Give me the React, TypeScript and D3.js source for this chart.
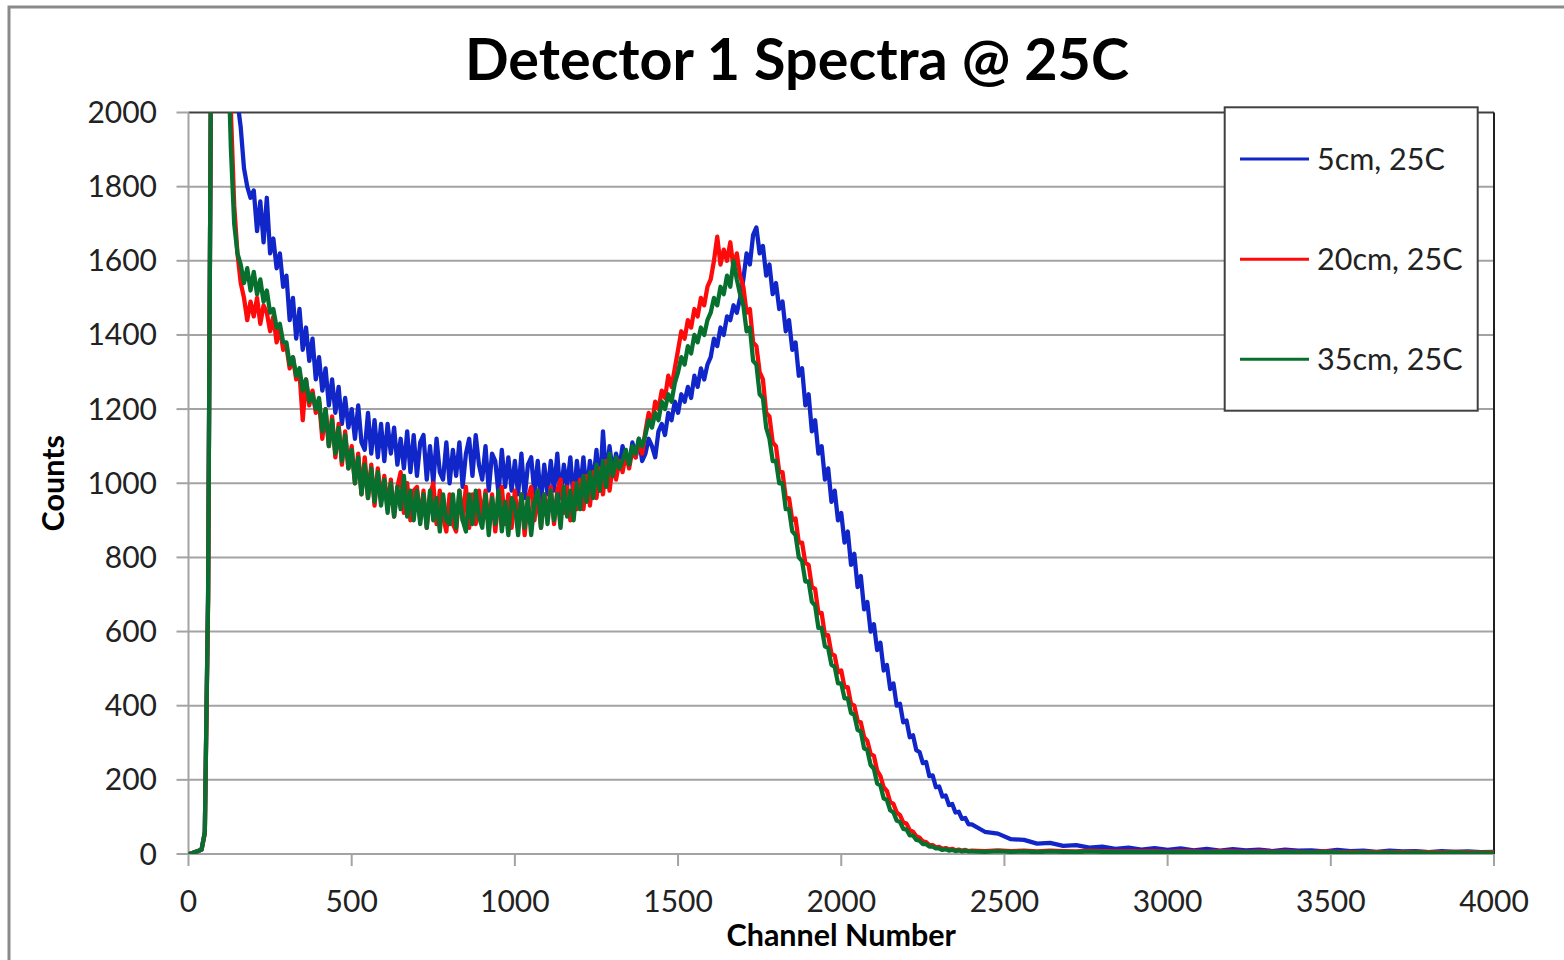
import React from "react";
import * as d3 from "d3";

// Channel grid (fine in the active region, coarser in the flat tail)
const CHANNELS: number[] = [...d3.range(0, 2400, 10), ...d3.range(2400, 4001, 40)];

const BLUE: number[] = [
  0, 2, 5, 8, 12, 60, 700, 2300, 3300, 3900,
  3500, 3000, 2620, 2310, 2120, 2030, 1960, 1850, 1800, 1770,
  1790, 1680, 1760, 1650, 1770, 1620, 1660, 1580, 1620, 1530,
  1560, 1440, 1500, 1390, 1470, 1360, 1420, 1330, 1390, 1280,
  1340, 1250, 1310, 1210, 1280, 1190, 1260, 1160, 1230, 1150,
  1200, 1120, 1210, 1110, 1090, 1190, 1080, 1170, 1070, 1160,
  1060, 1160, 1080, 1150, 1050, 1120, 1040, 1140, 1030, 1130,
  1020, 1110, 1130, 1010, 1100, 1000, 1120, 1030, 1010, 1110,
  1000, 1090, 1020, 1110, 990, 1080, 1120, 1020, 1130, 1050,
  1010, 1100, 980, 1080, 1060, 970, 1090, 990, 1070, 980,
  1060, 970, 1080, 960, 1050, 1070, 970, 1060, 950, 1050,
  970, 1060, 980, 1080, 960, 1050, 990, 1070, 950, 1060,
  980, 1070, 970, 1060, 1000, 1090, 980, 1140, 1010, 1100,
  1030, 1080, 1040, 1100, 1060, 1050, 1110, 1070, 1120, 1060,
  1080, 1120, 1100, 1070, 1140, 1160, 1130, 1190, 1170, 1220,
  1190, 1240, 1220, 1260, 1230, 1290, 1260, 1310, 1280, 1320,
  1340, 1390, 1370, 1420, 1400, 1450, 1440, 1480, 1460, 1500,
  1550, 1620, 1590, 1670, 1690, 1620, 1640, 1560, 1590, 1510,
  1540, 1470, 1490, 1410, 1440, 1360, 1380, 1290, 1310, 1210,
  1240, 1140, 1170, 1080, 1100, 1010, 1040, 950, 980, 900,
  920, 840, 870, 780, 810, 720, 750, 660, 680, 600,
  620, 550, 570, 495, 510, 445, 460, 400, 405, 355,
  360, 315, 320, 280, 275, 245, 248, 210, 212, 180,
  182, 155, 158, 132, 135, 112, 114, 95, 97, 80,
  80, 60, 55, 40, 38, 28, 30, 22, 24, 17,
  20, 14, 17, 12, 16, 11, 15, 10, 14, 9,
  13, 10, 12, 8, 12, 9, 10, 7, 11, 8,
  9, 6, 9, 7, 8, 5, 8, 6, 7, 5,
  6,
];

const RED: number[] = [
  0, 2, 5, 8, 12, 55, 680, 2300, 3300, 3900,
  3300, 2700, 2300, 2000, 1750, 1620, 1540, 1500, 1440, 1490,
  1450, 1500, 1430, 1480, 1460, 1410, 1450, 1380, 1420, 1360,
  1370, 1310, 1340, 1280, 1300, 1170, 1280, 1210, 1250, 1190,
  1220, 1120, 1200, 1100, 1180, 1070, 1160, 1050, 1140, 1040,
  1100, 1000, 1080, 970, 1070, 960, 1050, 940, 1040, 950,
  1020, 930, 1010, 910, 990, 1030, 920, 1000, 900, 980,
  990, 900, 980, 880, 970, 1000, 890, 980, 910, 870,
  970, 890, 870, 980, 900, 990, 880, 970, 890, 980,
  900, 980, 880, 970, 870, 960, 990, 890, 970, 880,
  980, 890, 970, 860, 960, 990, 900, 980, 880, 970,
  910, 990, 890, 980, 1010, 920, 990, 900, 1000, 930,
  1010, 930, 1020, 940, 1030, 960, 1040, 970, 1060, 980,
  1050, 1010, 1060, 1030, 1080, 1040, 1090, 1070, 1110, 1080,
  1140, 1190, 1160, 1220, 1200, 1250, 1230, 1290, 1260, 1310,
  1360, 1410, 1390, 1440, 1420, 1470, 1450, 1500, 1480, 1530,
  1550, 1600, 1665, 1590, 1630, 1600, 1650, 1580, 1620, 1560,
  1530, 1460, 1470, 1380, 1370, 1300, 1280, 1190, 1180, 1110,
  1100, 1030, 1030, 960, 960, 900, 905, 840, 840, 785,
  780, 720, 715, 650, 650, 590, 590, 540, 535, 490,
  495, 450, 450, 405, 400, 360, 355, 315, 305, 270,
  265, 225, 210, 180, 170, 140, 135, 112, 105, 85,
  82, 64, 60, 48, 44, 34, 32, 24, 24, 18,
  19, 14, 16, 12, 14, 10, 12, 9, 11, 8,
  9, 8, 10, 8, 9, 7, 9, 8, 7, 9,
  8, 7, 8, 7, 8, 6, 8, 7, 6, 8,
  7, 6, 7, 6, 7, 6, 5, 7, 6, 5,
  6, 5, 6, 5, 6, 5, 5, 6, 5, 4,
  5,
];

const GREEN: number[] = [
  0, 2, 5, 8, 12, 58, 690, 2300, 3300, 3900,
  3300, 2700, 2200, 1900, 1700, 1620, 1590, 1540, 1580, 1520,
  1570, 1510, 1550, 1490, 1520, 1460, 1470, 1420, 1430, 1380,
  1380, 1320, 1340, 1290, 1310, 1250, 1280, 1220, 1240, 1200,
  1230, 1140, 1200, 1100, 1170, 1080, 1150, 1060, 1130, 1040,
  1090, 1000, 1070, 970, 1050, 960, 1040, 950, 1030, 940,
  1010, 920, 1000, 910, 990, 930, 1020, 910, 980, 900,
  980, 890, 970, 880, 980, 900, 960, 870, 970, 900,
  890, 970, 880, 980, 900, 870, 970, 890, 980, 910,
  880, 970, 860, 960, 890, 980, 870, 950, 860, 960,
  940, 860, 970, 880, 960, 860, 950, 980, 880, 970,
  890, 980, 900, 970, 880, 990, 910, 980, 900, 1000,
  930, 1020, 950, 1030, 960, 1050, 980, 1060, 990, 1080,
  1020, 1070, 1040, 1060, 1090, 1050, 1100, 1080, 1120, 1100,
  1130, 1170, 1150, 1190, 1170, 1220, 1200, 1240, 1220, 1270,
  1300, 1340, 1320, 1370, 1350, 1400, 1380, 1420, 1400, 1440,
  1460, 1500, 1480, 1530, 1510, 1560, 1530, 1600, 1550, 1510,
  1480, 1410, 1420, 1330, 1320, 1240, 1230, 1150, 1120, 1060,
  1060, 1000, 1000, 930, 930, 870, 860, 800, 790, 735,
  735, 680, 670, 610, 610, 560, 555, 510, 505, 460,
  460, 420, 420, 380, 375, 335, 330, 285, 280, 240,
  230, 190, 185, 150, 145, 118, 112, 90, 86, 68,
  66, 50, 50, 38, 36, 27, 27, 20, 20, 15,
  15, 11, 13, 9, 11, 8, 10, 7, 9, 7,
  7, 6, 8, 6, 7, 5, 7, 6, 5, 7,
  6, 5, 6, 5, 6, 4, 6, 5, 4, 6,
  5, 4, 5, 4, 5, 4, 4, 5, 4, 3,
  4, 3, 4, 3, 4, 3, 3, 4, 3, 3,
  3,
];

const SERIES_NAMES = ["5cm, 25C", "20cm, 25C", "35cm, 25C"];
const SERIES_VALUES = [BLUE, RED, GREEN];
const SERIES_COLORS = ["#1126C9", "#FF0A0A", "#08702F"];

const X_TICKS = [0, 500, 1000, 1500, 2000, 2500, 3000, 3500, 4000];
const Y_TICKS = [0, 200, 400, 600, 800, 1000, 1200, 1400, 1600, 1800, 2000];

const TITLE = "Detector 1 Spectra @ 25C";
const X_TITLE = "Channel Number";
const Y_TITLE = "Counts";

const FONT = "Lato, 'Open Sans', 'DejaVu Sans', sans-serif";

export default function App() {
  const W = 1564;
  const H = 960;
  const left = 188.5, right = 1494, top = 112.5, bottom = 854;
  const x = d3.scaleLinear().domain([0, 4000]).range([left, right]);
  const y = d3.scaleLinear().domain([0, 2000]).range([bottom, top]);
  const line = d3
    .line<[number, number]>()
    .x((d) => x(d[0]))
    .y((d) => y(d[1]));

  const paths = SERIES_VALUES.map((vals) => {
    const n = Math.min(vals.length, CHANNELS.length);
    const pts: [number, number][] = [];
    for (let i = 0; i < n; i++) pts.push([CHANNELS[i], vals[i]]);
    return line(pts) || "";
  });

  const legend = { x: 1224.7, y: 107.3, w: 253, h: 303.4 };
  const legendRows = [159, 259.3, 359.3];

  return (
    <div style={{ position: "fixed", left: 0, top: 0, width: W, height: H, background: "#fff" }}>
      <svg width={W} height={H} style={{ display: "block" }} fontFamily={FONT}>
        <defs>
          <clipPath id="plotClip">
            <rect x={left} y={top} width={right - left} height={bottom - top} />
          </clipPath>
        </defs>
        <rect x={0} y={0} width={W} height={H} fill="#fff" />
        {/* chart outer border */}
        <rect x={9} y={7} width={W + 50} height={H + 50} fill="none" stroke="#8a8a8a" strokeWidth={3} />

        {/* title */}
        <text x={797} y={80} textAnchor="middle" fontSize={57.5} fontWeight={700} fill="#000">
          {TITLE}
        </text>

        {/* gridlines */}
        {Y_TICKS.filter((t) => t > 0 && t < 2000).map((t) => (
          <line key={"g" + t} x1={left} x2={right} y1={y(t)} y2={y(t)} stroke="#a3a3a3" strokeWidth={2} />
        ))}

        {/* plot border top & right */}
        <line x1={left} x2={right} y1={top} y2={top} stroke="#404040" strokeWidth={2} />
        <line x1={right} x2={right} y1={top} y2={bottom} stroke="#202020" strokeWidth={2} />

        {/* axes */}
        <line x1={left} x2={left} y1={top} y2={bottom} stroke="#a3a3a3" strokeWidth={2} />
        <line x1={left} x2={right} y1={bottom} y2={bottom} stroke="#a3a3a3" strokeWidth={2} />
        {Y_TICKS.map((t) => (
          <g key={"yt" + t}>
            <line x1={left - 12} x2={left} y1={y(t)} y2={y(t)} stroke="#a3a3a3" strokeWidth={2} />
            <text x={157} y={y(t) + 10.5} textAnchor="end" fontSize={30} fill="#222">
              {t}
            </text>
          </g>
        ))}
        {X_TICKS.map((t) => (
          <g key={"xt" + t}>
            <line x1={x(t)} x2={x(t)} y1={bottom} y2={bottom + 12} stroke="#a3a3a3" strokeWidth={2} />
            <text x={x(t)} y={912} textAnchor="middle" fontSize={30} fill="#222">
              {t}
            </text>
          </g>
        ))}

        {/* series */}
        <g clipPath="url(#plotClip)">
          {paths.map((p, i) => (
            <path
              key={"s" + i}
              d={p}
              fill="none"
              stroke={SERIES_COLORS[i]}
              strokeWidth={4.3}
              strokeLinejoin="round"
            />
          ))}
        </g>

        {/* axis titles */}
        <text x={(left + right) / 2} y={946} textAnchor="middle" fontSize={30.5} fontWeight={700} fill="#000">
          {X_TITLE}
        </text>
        <text
          transform={`translate(64, ${(top + bottom) / 2}) rotate(-90)`}
          textAnchor="middle"
          fontSize={30.5}
          fontWeight={700}
          fill="#000"
        >
          {Y_TITLE}
        </text>

        {/* legend */}
        <rect x={legend.x} y={legend.y} width={legend.w} height={legend.h} fill="#fff" stroke="#404040" strokeWidth={2} />
        {SERIES_NAMES.map((name, i) => (
          <g key={"l" + i}>
            <line
              x1={1240}
              x2={1309}
              y1={legendRows[i]}
              y2={legendRows[i]}
              stroke={SERIES_COLORS[i]}
              strokeWidth={3}
            />
            <text x={1317} y={legendRows[i] + 10.5} fontSize={30.5} fill="#222">
              {name}
            </text>
          </g>
        ))}
      </svg>
    </div>
  );
}
